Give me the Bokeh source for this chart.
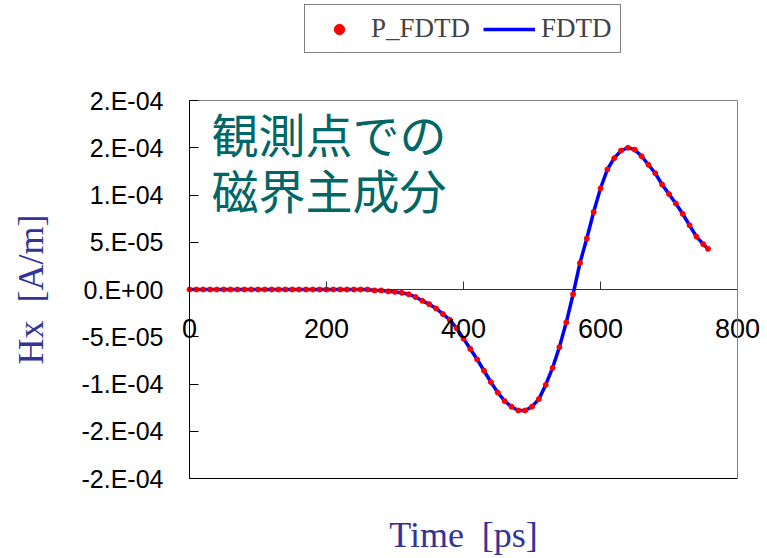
import math
from bokeh.plotting import figure
from bokeh.models import (Range1d, FixedTicker, LinearAxis, Legend, LegendItem,
                          CustomJSTickFormatter, Label, ColumnDataSource)
from bokeh.embed import file_html
from bokeh.resources import INLINE

# ---- data ----
time_ps = list(range(0, 760, 10)) + [757]
fdtd_hx = [0.0] * 27 + [
    -1.0e-6, -1.0e-6, -2.0e-6, -2.5e-6, -3.5e-6, -5.0e-6, -8.0e-6, -1.2e-5,
    -1.55e-5, -2.0e-5, -2.6e-5, -3.2e-5, -4.1e-5, -5.2e-5, -6.3e-5, -7.4e-5,
    -8.6e-5, -9.8e-5, -1.09e-4, -1.18e-4, -1.24e-4, -1.28e-4, -1.28e-4, -1.24e-4,
    -1.16e-4, -1.01e-4, -8.3e-5, -6.1e-5, -3.5e-5, -5.0e-6, 2.8e-5, 5.4e-5,
    8.2e-5, 1.07e-4, 1.27e-4, 1.39e-4, 1.47e-4, 1.50e-4, 1.48e-4, 1.41e-4,
    1.32e-4, 1.23e-4, 1.11e-4, 1.01e-4, 9.1e-5, 8.0e-5, 6.8e-5, 5.6e-5,
    4.8e-5, 4.3e-5]
p_fdtd_hx = list(fdtd_hx)

x_ticks = [0, 200, 400, 600, 800]
y_ticks = [-2e-4, -1.5e-4, -1e-4, -5e-5, 0.0, 5e-5, 1e-4, 1.5e-4, 2e-4]
y_tick_labels = ["-2.E-04", "-2.E-04", "-1.E-04", "-5.E-05", "0.E+00",
                 "5.E-05", "1.E-04", "2.E-04", "2.E-04"]
X_MIN, X_MAX = 0, 800
Y_MIN, Y_MAX = -2e-4, 2e-4

# ---- layout (pixels); the frame covers the whole canvas ----
W, H = 767, 558
BL, BR, BT, BB = 189, 737, 100, 478   # visible plot box
xpp = (X_MAX - X_MIN) / (BR - BL)
ypp = (Y_MAX - Y_MIN) / (BB - BT)
x_start = X_MIN - BL * xpp
x_end = X_MAX + (W - BR) * xpp
y_start = Y_MIN - (H - BB) * ypp
y_end = Y_MAX + BT * ypp


def px_x(px):
    return X_MIN + (px - BL) * xpp


def px_y(py):
    return Y_MIN + (BB - py) * ypp


p = figure(width=W, height=H, output_backend="svg", toolbar_location=None,
           x_range=Range1d(x_start, x_end), y_range=Range1d(y_start, y_end),
           min_border_left=0, min_border_right=0, min_border_top=0,
           min_border_bottom=0)
p.background_fill_color = "white"
p.border_fill_color = "white"
p.outline_line_color = None
p.xgrid.visible = False
p.ygrid.visible = False

# x axis crossing at zero
xa = p.xaxis[0]
xa.fixed_location = 0
xa.bounds = (X_MIN, X_MAX)
xa.ticker = FixedTicker(ticks=x_ticks)
xa.major_tick_in = 8
xa.major_tick_out = 0
xa.minor_tick_line_color = None
xa.axis_line_color = "#333333"
xa.major_tick_line_color = "#333333"
xa.major_label_text_font = "Liberation Sans"
xa.major_label_text_font_size = "27px"
xa.major_label_text_color = "black"
xa.major_label_standoff = 29

# y axis at x = 0
ya = p.yaxis[0]
ya.fixed_location = 0
ya.bounds = (Y_MIN, Y_MAX)
ya.ticker = FixedTicker(ticks=y_ticks)
ya.formatter = CustomJSTickFormatter(args=dict(vals=y_ticks, labs=y_tick_labels), code="""
let best = 0;
for (let i = 0; i < vals.length; i++) {
  if (Math.abs(vals[i] - tick) < Math.abs(vals[best] - tick)) best = i;
}
return labs[best];
""")
ya.major_tick_in = 9
ya.major_tick_out = 0
ya.minor_tick_line_color = None
ya.axis_line_color = "black"
ya.major_label_text_font = "Liberation Sans"
ya.major_label_text_font_size = "25px"
ya.major_label_text_color = "black"
ya.major_label_standoff = 26


def plain_axis(**kw):
    return LinearAxis(ticker=FixedTicker(ticks=[]), major_tick_out=0, major_tick_in=0,
                      major_label_text_font_size="0px", major_label_standoff=0,
                      minor_tick_line_color=None, **kw)


# box edges
p.add_layout(plain_axis(fixed_location=Y_MIN, bounds=(X_MIN, X_MAX),
                        axis_line_color="black"), "below")
p.add_layout(plain_axis(fixed_location=Y_MAX, bounds=(X_MIN, X_MAX),
                        axis_line_color="#808080"), "above")
p.add_layout(plain_axis(fixed_location=X_MAX, bounds=(Y_MIN, Y_MAX),
                        axis_line_color="#808080"), "right")

# axis titles
title_style = dict(text_font="Liberation Serif", text_font_size="36px",
                   text_color="#333399", text_baseline="alphabetic", text_align="center")
p.add_layout(Label(x=(X_MIN + X_MAX) / 2, y=px_y(534), text="Time\u00a0 [ps]", **title_style))
p.add_layout(Label(x=px_x(30), y=(Y_MIN + Y_MAX) / 2, text="Hx\u00a0 [A/m]",
                   angle=math.pi / 2, **title_style))

# series
src = ColumnDataSource(dict(t=time_ps, fdtd=fdtd_hx, pfdtd=p_fdtd_hx))
p.line("t", "fdtd", source=src, line_color="blue", line_width=3.5)
p.scatter("t", "pfdtd", source=src, size=5, fill_color="red", line_color="red")

# legend proxies (a single undefined point: nothing drawn on the plot)
nan = float("nan")
dot_proxy = p.scatter(x=[nan], y=[nan], size=13, fill_color="red", line_color="red")
line_proxy = p.line(x=[nan, nan], y=[nan, nan], line_color="blue", line_width=3.5)
legend = Legend(items=[LegendItem(label="P_FDTD", renderers=[dot_proxy]),
                       LegendItem(label="FDTD", renderers=[line_proxy])],
                orientation="horizontal", location=(304, H - 53),
                label_text_font="Liberation Serif", label_text_font_size="27px",
                border_line_color="black", border_line_width=1,
                glyph_width=52, glyph_height=26, label_standoff=6, spacing=13,
                padding=8, margin=0, background_fill_color="white")
p.add_layout(legend, "center")

# annotation text
for txt, yy in [("観測点での", 1.665e-4), ("磁界主成分", 1.07e-4)]:
    p.add_layout(Label(x=32, y=yy, text=txt, text_font="Noto Sans CJK JP",
                       text_font_size="47px", text_color="#006666",
                       text_baseline="middle", text_align="left"))

open("out.html", "w").write(file_html(p, INLINE))
